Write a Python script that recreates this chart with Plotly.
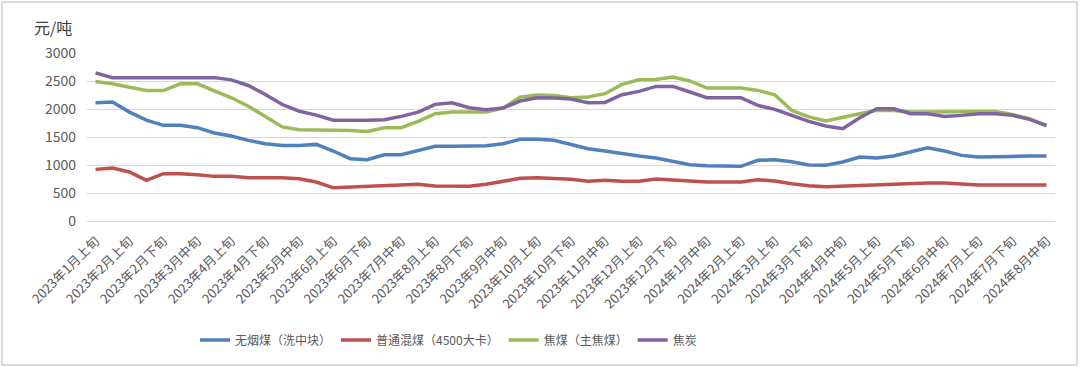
import plotly.graph_objects as go

categories = [
    "2023年1月上旬", "2023年1月中旬",
    "2023年2月上旬", "2023年2月中旬", "2023年2月下旬",
    "2023年3月上旬", "2023年3月中旬", "2023年3月下旬",
    "2023年4月上旬", "2023年4月中旬", "2023年4月下旬",
    "2023年5月上旬", "2023年5月中旬", "2023年5月下旬",
    "2023年6月上旬", "2023年6月中旬", "2023年6月下旬",
    "2023年7月上旬", "2023年7月中旬", "2023年7月下旬",
    "2023年8月上旬", "2023年8月中旬", "2023年8月下旬",
    "2023年9月上旬", "2023年9月中旬", "2023年9月下旬",
    "2023年10月上旬", "2023年10月中旬", "2023年10月下旬",
    "2023年11月上旬", "2023年11月中旬", "2023年11月下旬",
    "2023年12月上旬", "2023年12月中旬", "2023年12月下旬",
    "2024年1月上旬", "2024年1月中旬", "2024年1月下旬",
    "2024年2月上旬", "2024年2月下旬",
    "2024年3月上旬", "2024年3月中旬", "2024年3月下旬",
    "2024年4月上旬", "2024年4月中旬", "2024年4月下旬",
    "2024年5月上旬", "2024年5月中旬", "2024年5月下旬",
    "2024年6月上旬", "2024年6月中旬", "2024年6月下旬",
    "2024年7月上旬", "2024年7月中旬", "2024年7月下旬",
    "2024年8月上旬", "2024年8月中旬",
]

anthracite = [
    2110, 2125, 1945, 1800, 1708, 1708, 1666, 1571, 1517, 1440, 1380, 1350, 1350, 1368, 1250,
    1113, 1095, 1184, 1184, 1261, 1333, 1333, 1345, 1345, 1380, 1458, 1458, 1440, 1365,
    1291, 1250, 1202, 1160, 1125, 1065, 1005, 988, 976, 976, 1083, 1095, 1059, 1000,
    994, 1053, 1142, 1125, 1160, 1232, 1309, 1250, 1172, 1142, 1142, 1154, 1160, 1160,
]
thermal = [
    922, 946, 875, 726, 845, 845, 827, 797, 797, 773, 773, 773, 756, 696, 592,
    607, 625, 637, 643, 655, 625, 619, 619, 655, 708, 762, 773, 756, 745,
    708, 726, 708, 708, 750, 738, 714, 696, 696, 696, 738, 714, 666, 628,
    613, 625, 631, 649, 666, 678, 678, 678, 655, 643, 643, 643, 643, 643,
]
coking_coal = [
    2490, 2450, 2390, 2330, 2330, 2450, 2450, 2320, 2200, 2050, 1870, 1680, 1630, 1630, 1630,
    1618, 1600, 1666, 1666, 1779, 1916, 1945, 1945, 1945, 2017, 2213, 2249, 2243, 2200,
    2213, 2273, 2440, 2523, 2529, 2570, 2500, 2374, 2374, 2374, 2332, 2255, 1975, 1860,
    1785, 1856, 1916, 1975, 1975, 1945, 1945, 1945, 1957, 1957, 1957, 1904, 1827, 1696,
]
coke = [
    2645, 2560, 2560, 2560, 2560, 2560, 2560, 2560, 2520, 2420, 2260, 2080, 1960, 1890, 1800,
    1797, 1797, 1809, 1868, 1945, 2083, 2112, 2023, 1987, 2017, 2142, 2200, 2195, 2180,
    2112, 2118, 2255, 2315, 2404, 2404, 2303, 2202, 2202, 2202, 2065, 1993, 1886, 1780,
    1696, 1648, 1845, 2005, 2005, 1916, 1916, 1868, 1886, 1916, 1916, 1886, 1815, 1708,
]

series_names = ["无烟煤（洗中块）", "普通混煤（4500大卡）", "焦煤（主焦煤）", "焦炭"]
series_values = [anthracite, thermal, coking_coal, coke]
colors = ["#4F81BD", "#C0504D", "#9BBB59", "#8064A2"]

y_ticks = [0, 500, 1000, 1500, 2000, 2500, 3000]
unit_label = "元/吨"

font_family = "Noto Sans CJK SC, Noto Sans, sans-serif"

fig = go.Figure()
for name, vals, col in zip(series_names, series_values, colors):
    fig.add_trace(go.Scatter(
        x=categories, y=vals, name=name, mode="lines",
        line=dict(color=col, width=3.5),
    ))

L, R, T, B = 87, 25, 53, 146
W, H = 1080, 367
pw, ph = W - L - R, H - T - B

fig.update_layout(
    width=W, height=H,
    margin=dict(l=L, r=R, t=T, b=B, pad=0, autoexpand=False),
    paper_bgcolor="white", plot_bgcolor="white",
    font=dict(family=font_family, color="#595959", size=13),
    showlegend=True,
    legend=dict(
        orientation="h", x=(195 - L) / pw, xanchor="left",
        y=(T + ph - 340) / ph, yanchor="middle",
        font=dict(size=12, color="#595959"),
        itemwidth=30, traceorder="normal",
    ),
    xaxis=dict(
        type="category", categoryorder="array", categoryarray=categories,
        tickmode="array", tickvals=categories[::2], ticktext=categories[::2],
        tickangle=-45, showgrid=False, showline=False, zeroline=False,
        ticks="", tickfont=dict(size=13, color="#595959"),
        range=[-0.5, len(categories) - 0.5], automargin=False,
        ticklabelstandoff=9,
    ),
    yaxis=dict(
        range=[0, 3000], tickmode="array", tickvals=y_ticks,
        showgrid=True, gridcolor="#D9D9D9", gridwidth=1,
        zeroline=True, zerolinecolor="#D9D9D9", zerolinewidth=1,
        showline=False, ticks="", tickfont=dict(size=14, color="#595959"),
        ticklabelstandoff=10, automargin=False,
    ),
    annotations=[dict(
        text=unit_label, xref="paper", yref="paper",
        x=(53 - L) / pw, y=(T + ph - 27) / ph,
        xanchor="center", yanchor="middle", showarrow=False,
        font=dict(size=16, color="#404040", family=font_family),
    )],
    shapes=[dict(
        type="rect", xref="paper", yref="paper",
        x0=(2 - L) / pw, x1=(1077 - L) / pw,
        y0=(T + ph - 365) / ph, y1=(T + ph - 2) / ph,
        line=dict(color="#D0D0D0", width=1.5), fillcolor="rgba(0,0,0,0)",
        layer="below",
    )],
)

fig.write_html(
    "out.html",
    config={"displayModeBar": False},
    post_script="document.body.style.margin='0px';document.body.style.overflow='hidden';",
)
